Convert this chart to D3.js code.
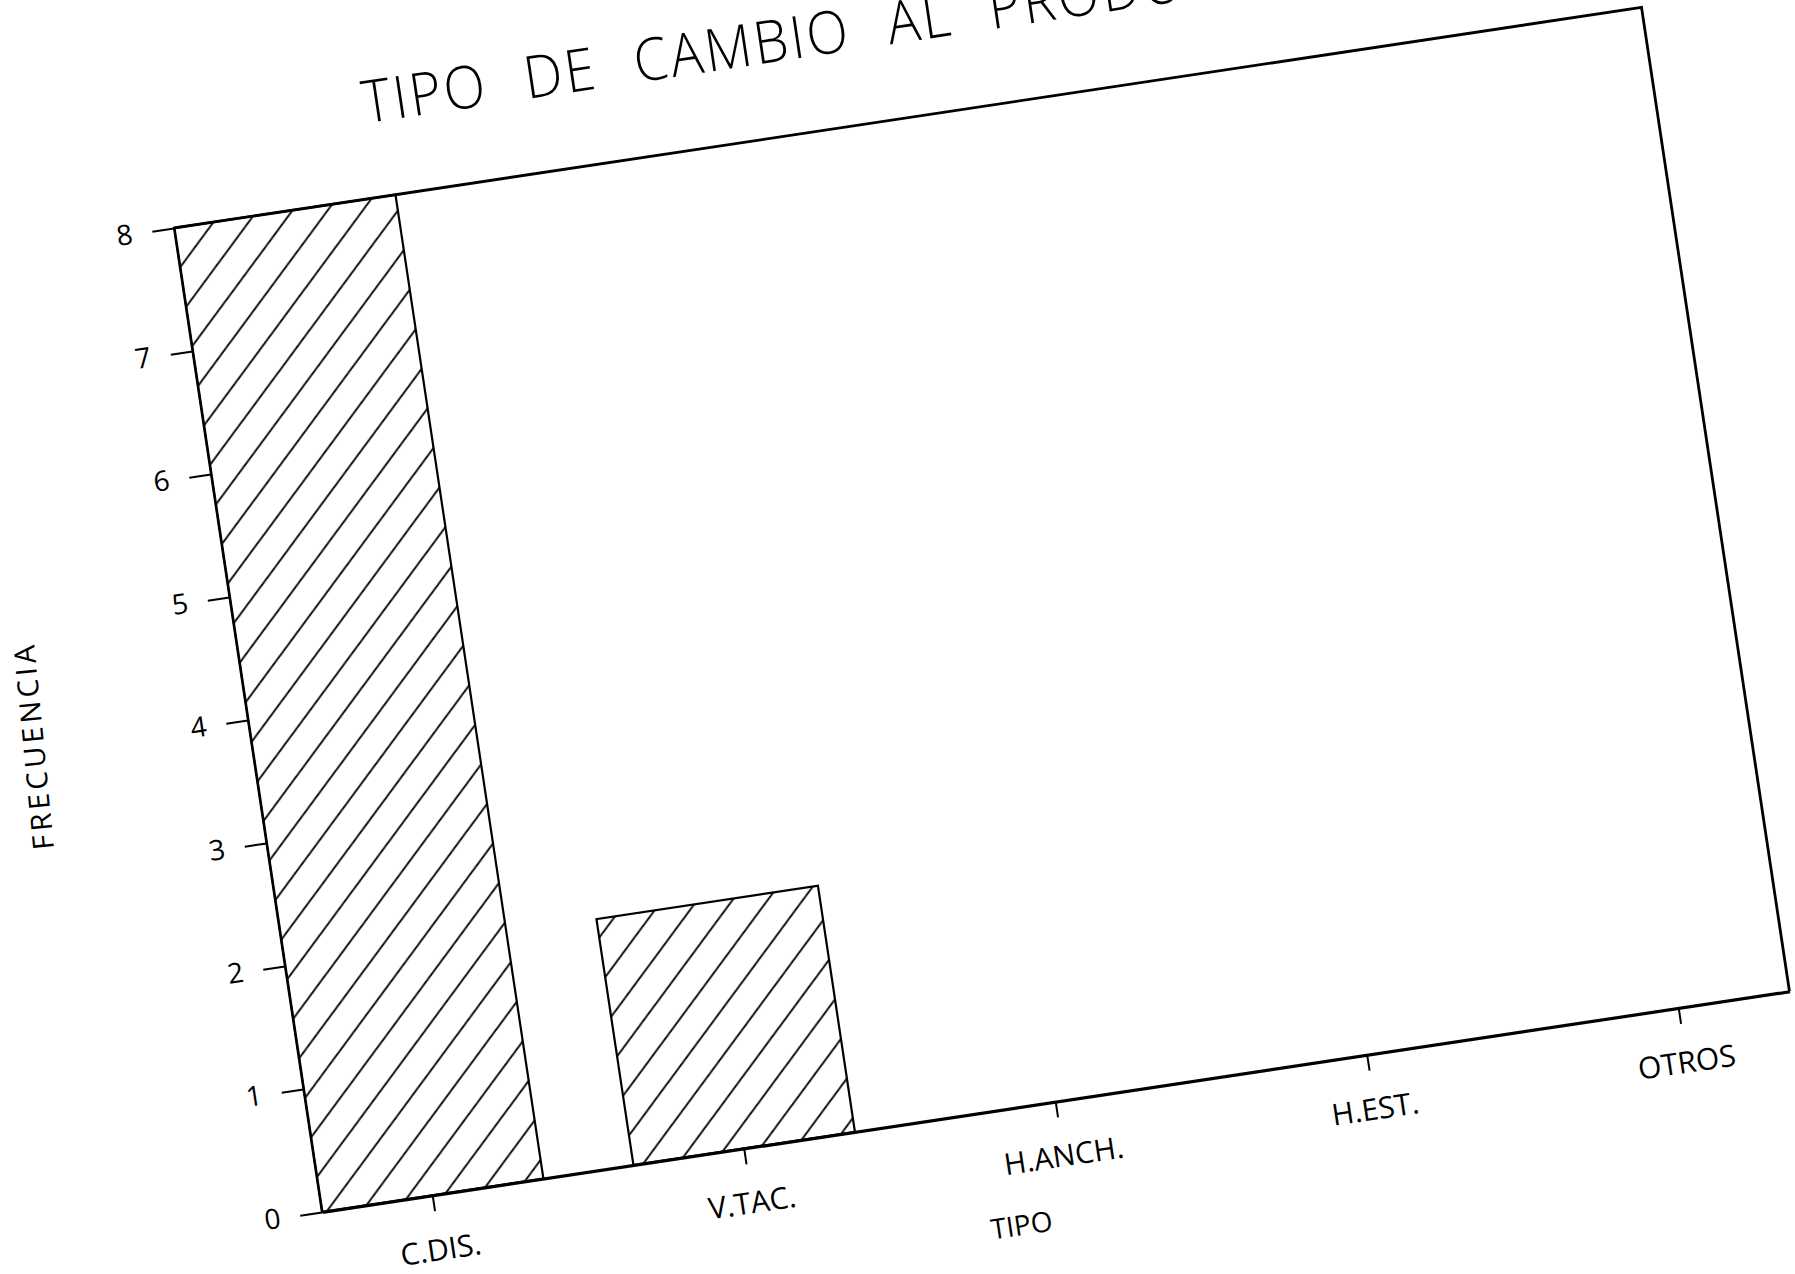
<!DOCTYPE html>
<html><head><meta charset="utf-8">
<script src="https://cdn.jsdelivr.net/npm/d3@7"></script>
<style>
html,body{margin:0;padding:0;background:#fff;}
svg{display:block;}
text{font-family:"Open Sans","Liberation Sans",sans-serif;fill:#000;}
</style>
</head><body>
<svg id="c" width="1795" height="1274"></svg>
<script>
// ---- data ----
const categories = ["C.DIS.", "V.TAC.", "H.ANCH.", "H.EST.", "OTROS"];
const frecuencia = [8, 2, 0, 0, 0];
const yTicks = [0, 1, 2, 3, 4, 5, 6, 7, 8];
const chartTitle = "TIPO DE CAMBIO AL PRODUCIRSE";
const xTitle = "TIPO";
const yTitle = "FRECUENCIA";

// ---- layout (plot frame is rotated like the scanned page) ----
const W = 1484, H = 995;
const svg = d3.select("#c");
svg.append("rect").attr("width", 1795).attr("height", 1274).attr("fill", "#fff");

const defs = svg.append("defs");
const pat = defs.append("pattern").attr("id", "hatch")
  .attr("patternUnits", "userSpaceOnUse").attr("width", 40).attr("height", 40);
pat.append("path").attr("d", "M-10,10 L10,-10 M0,40 L40,0 M30,50 L50,30")
  .attr("stroke", "#000").attr("stroke-width", 1.9).attr("fill", "none");

const g = svg.append("g").attr("transform", "translate(174,228) rotate(-8.55)");

const x = d3.scaleBand().domain(categories).range([0, W]).paddingInner(0.289).paddingOuter(0);
const y = d3.scaleLinear().domain([0, 8]).range([H, 0]);

const data = categories.map((c, i) => ({c, v: frecuencia[i]}));

// bars
g.selectAll("rect.bar").data(data.filter(d => d.v > 0)).join("rect")
  .attr("class", "bar")
  .attr("x", d => x(d.c)).attr("width", x.bandwidth())
  .attr("y", d => y(d.v)).attr("height", d => y(0) - y(d.v))
  .attr("fill", "url(#hatch)").attr("stroke", "#000").attr("stroke-width", 2.2);

// frame (top + right)
g.append("path").attr("d", `M0,${y(8)} L${W},${y(8)} L${W},${y(0)}`)
  .attr("fill", "none").attr("stroke", "#000").attr("stroke-width", 2.8);

// axes
const xAxis = g.append("g").attr("transform", `translate(0,${H})`)
  .call(d3.axisBottom(x).tickSize(16).tickSizeOuter(0).tickPadding(28));
const yAxis = g.append("g")
  .call(d3.axisLeft(y).tickValues(yTicks).tickFormat(d3.format("d")).tickSize(22).tickSizeOuter(0).tickPadding(20));

xAxis.select(".domain").attr("stroke", "#000").attr("stroke-width", 3.2);
yAxis.select(".domain").attr("stroke", "#000").attr("stroke-width", 2.2);
g.selectAll(".tick line").attr("stroke", "#000").attr("stroke-width", 2);
xAxis.selectAll("text").attr("font-size", 30).attr("fill", "#000");
yAxis.selectAll("text").attr("font-size", 28).attr("fill", "#000");

// titles
g.append("text").attr("transform", "translate(205,-75) scale(0.92,1)")
  .attr("font-size", 59).attr("font-weight", 300)
  .attr("letter-spacing", 3).attr("word-spacing", 22)
  .text(chartTitle);

g.append("text").attr("x", 690).attr("y", 1112).attr("dy", "0.36em")
  .attr("text-anchor", "middle").attr("font-size", 28)
  .text(xTitle);

g.append("text").attr("transform", "translate(-216,493) rotate(-87)")
  .attr("dy", "0.36em").attr("text-anchor", "middle").attr("font-size", 29)
  .attr("textLength", 205).attr("lengthAdjust", "spacing")
  .text(yTitle);
</script>
</body></html>
